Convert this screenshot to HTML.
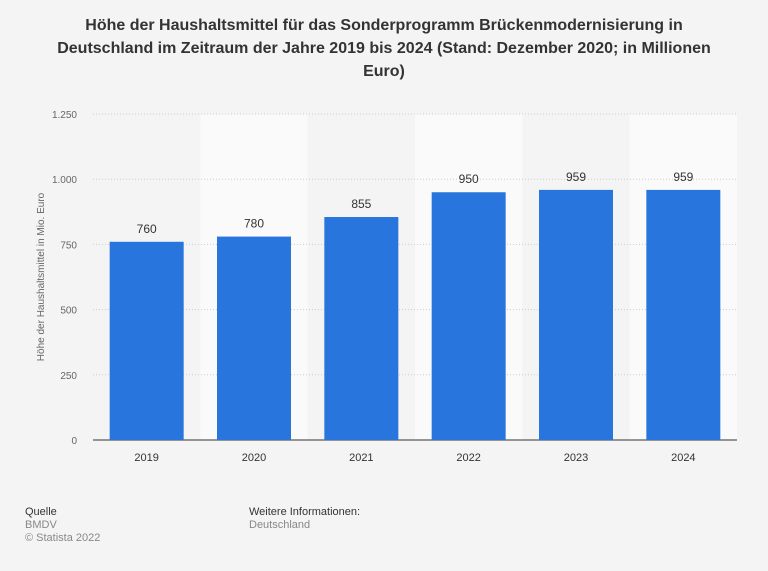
<!DOCTYPE html>
<html><head><meta charset="utf-8"><style>
body{margin:0;width:768px;height:571px;background:#f4f4f4;font-family:"Liberation Sans",sans-serif;overflow:hidden;position:relative}
#title{position:absolute;left:40px;top:14px;width:688px;text-align:center;font-weight:bold;font-size:16px;line-height:23px;color:#333}
.src{position:absolute;font-size:11px;line-height:13px;color:#333}
.src span{color:#888;display:block}
</style></head><body>
<div id="title">Höhe der Haushaltsmittel für das Sonderprogramm Brückenmodernisierung in Deutschland im Zeitraum der Jahre 2019 bis 2024 (Stand: Dezember 2020; in Millionen Euro)</div>
<svg id="chart" width="768" height="571" style="position:absolute;left:0;top:0"></svg>
<div class="src" style="left:25px;top:506px">Quelle<span>BMDV</span><span>© Statista 2022</span></div>
<div class="src" style="left:249px;top:506px">Weitere Informationen:<span>Deutschland</span></div>
<script>
const categories=["2019","2020","2021","2022","2023","2024"];
const values=[760,780,855,950,959,959];
const ticks=[0,250,500,750,1000,1250];
const tickLabels=["0","250","500","750","1.000","1.250"];
const svg=document.getElementById('chart');
const NS="http://www.w3.org/2000/svg";
const x0=93,x1=737,yb=440,yt=114,ymax=1250;
const bw=(x1-x0)/categories.length;
const y=v=>yb-(v/ymax)*(yb-yt);
const xb=i=>x0+i*bw;
function mk(t,a){const e=document.createElementNS(NS,t);for(const k in a)e.setAttribute(k,a[k]);svg.appendChild(e);return e;}
categories.forEach((c,i)=>{if(i%2==1){const r=mk('rect',{x:xb(i),y:yt,width:bw,height:yb-yt,fill:'#fafafa'});

}});
ticks.forEach((t,i)=>{
const l=mk('line',{x1:x0,x2:x1,y1:y(t),y2:y(t),stroke:t==0?'#333':'#ccc','stroke-dasharray':t==0?'':'1,2','stroke-width':1});


const tx=mk('text',{x:77,y:y(t)+4,'text-anchor':'end','font-size':10,fill:'#666'});tx.textContent=tickLabels[i];


});
categories.forEach((c,i)=>{
const cx=xb(i)+bw/2,w=74;
const r=mk('rect',{x:cx-w/2,y:y(values[i]),width:w,height:yb-y(values[i]),fill:'#2876dd'});


const v=mk('text',{x:cx,y:y(values[i])-9,'text-anchor':'middle','font-size':12,fill:'#333'});v.textContent=values[i];


const t=mk('text',{x:cx,y:461,'text-anchor':'middle','font-size':11,fill:'#333'});t.textContent=c;


});
const yt2=mk('text',{x:0,y:0,transform:'translate(44,277) rotate(-90)','text-anchor':'middle','font-size':10,fill:'#666'});
yt2.textContent='Höhe der Haushaltsmittel in Mio. Euro';


</script>
</body></html>
